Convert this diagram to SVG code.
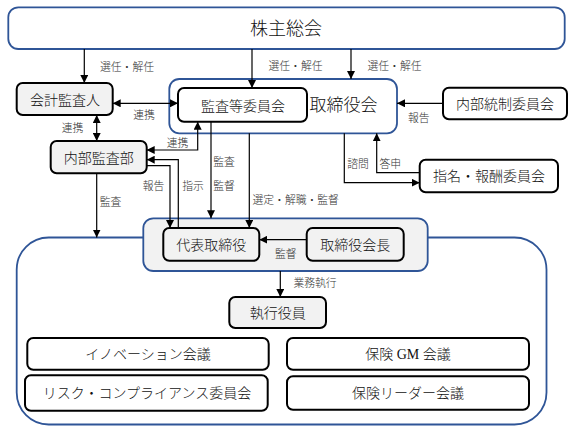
<svg xmlns="http://www.w3.org/2000/svg" width="574" height="432" viewBox="0 0 574 432">
<defs>
<marker id="ah" viewBox="0 0 10 10" refX="10" refY="5" markerWidth="8" markerHeight="8" markerUnits="userSpaceOnUse" orient="auto-start-reverse">
<path d="M0,0 L10,5 L0,10 z" fill="#000"/>
</marker>
<style>
text{font-family:"Liberation Serif","Noto Sans CJK JP",sans-serif;font-weight:300;fill:#111;text-anchor:middle;dominant-baseline:central}
.blue{fill:#fff;stroke:#2F5597;stroke-width:1.8}
.bluegrey{fill:#f2f2f2;stroke:#2F5597;stroke-width:1.8}
.box{fill:#fff;stroke:#000;stroke-width:2}
.gbox{fill:#f2f2f2;stroke:#000;stroke-width:2}
.t18{font-size:18px}
.t17{font-size:17px}
.t14{font-size:14px}
.lbl{font-size:10.8px;fill:#333}
.c{fill:none;stroke:#000;stroke-width:1.2}
.a{marker-end:url(#ah)}
.b{marker-start:url(#ah);marker-end:url(#ah)}
</style>
</defs>

<g id="shareholders">
<rect class="blue" x="8.3" y="7.3" width="556.4" height="41.7" rx="10"/>
<text class="t18" x="286" y="28.5">株主総会</text>
</g>

<g id="big-frame">
<rect class="blue" x="16.7" y="237.5" width="529.8" height="187" rx="32"/>
</g>

<g id="board">
<rect class="blue" x="169.3" y="79" width="227.7" height="54.3" rx="10"/>
<text class="t17" x="343.5" y="105">取締役会</text>
</g>

<g id="audit-committee">
<rect class="box" x="178" y="88" width="129" height="33.7" rx="6"/>
<text class="t14" x="243" y="106">監査等委員会</text>
</g>

<g id="accounting-auditor">
<rect class="gbox" x="16.7" y="83" width="96" height="32" rx="6"/>
<text class="t14" x="65" y="100">会計監査人</text>
</g>

<g id="internal-control">
<rect class="box" x="443" y="87.7" width="124" height="31.6" rx="6"/>
<text class="t14" x="505" y="104.5">内部統制委員会</text>
</g>

<g id="internal-audit">
<rect class="gbox" x="50.7" y="141" width="96" height="32.3" rx="6"/>
<text class="t14" x="98.7" y="158">内部監査部</text>
</g>

<g id="nomination">
<rect class="box" x="419.7" y="159.7" width="138.3" height="32.6" rx="6"/>
<text class="t14" x="489" y="176.5">指名・報酬委員会</text>
</g>

<g id="exec-group">
<rect class="bluegrey" x="143.3" y="218.3" width="284.4" height="52.7" rx="10"/>
</g>

<g id="representative">
<rect class="gbox" x="163.3" y="228" width="96" height="32.7" rx="6"/>
<text class="t14" x="211.3" y="245">代表取締役</text>
</g>

<g id="chairman">
<rect class="gbox" x="306.7" y="228" width="97" height="32.7" rx="6"/>
<text class="t14" x="355.2" y="245">取締役会長</text>
</g>

<g id="executive-officers">
<rect class="gbox" x="229.3" y="297" width="96.7" height="31" rx="6"/>
<text class="t14" x="277.7" y="313">執行役員</text>
</g>

<g id="innovation">
<rect class="box" x="27.3" y="338" width="241.4" height="31.7" rx="6"/>
<text class="t14" x="148" y="354.5">イノベーション会議</text>
</g>

<g id="risk">
<rect class="box" x="25" y="375.3" width="242.7" height="35.4" rx="6"/>
<text class="t14" x="147" y="393.5">リスク・コンプライアンス委員会</text>
</g>

<g id="insurance-gm">
<rect class="box" x="287" y="338" width="242" height="31.7" rx="6"/>
<text class="t14" x="408" y="354.5">保険 GM 会議</text>
</g>

<g id="insurance-leader">
<rect class="box" x="287" y="376.3" width="242" height="33.4" rx="6"/>
<text class="t14" x="408" y="393.5">保険リーダー会議</text>
</g>

<g id="connectors">
<path class="c a" d="M84.3,49 V83"/>
<path class="c a" d="M252,49 V88"/>
<path class="c a" d="M351,49 V79"/>
<path class="c b" d="M112.7,103.3 H178"/>
<path class="c b" d="M96.7,115 V141"/>
<path class="c a" d="M443,103.3 H397"/>
<path class="c b" d="M197.7,121.7 V150 H146.7"/>
<path class="c a" d="M146.7,165.7 H170 V228"/>
<path class="c a" d="M178.3,228 V159.7 H146.7"/>
<path class="c a" d="M96.7,173.3 V237.5"/>
<path class="c a" d="M211,121.7 V218.3"/>
<path class="c a" d="M249.3,133.3 V228"/>
<path class="c a" d="M344.3,133.3 V182.7 H419.7"/>
<path class="c a" d="M419.7,172.7 H376.7 V133.3"/>
<path class="c a" d="M306.7,239.7 H259.3"/>
<path class="c a" d="M280.3,271 V297"/>

<text class="lbl" x="127" y="66.5">選任・解任</text>
<text class="lbl" x="295.5" y="66">選任・解任</text>
<text class="lbl" x="394.5" y="66">選任・解任</text>
<text class="lbl" x="144" y="115">連携</text>
<text class="lbl" x="72.5" y="127.5">連携</text>
<text class="lbl" x="418.7" y="118">報告</text>
<text class="lbl" x="177.5" y="143">連携</text>
<text class="lbl" x="153.5" y="185.7">報告</text>
<text class="lbl" x="193" y="185.7">指示</text>
<text class="lbl" x="110.5" y="202.3">監査</text>
<text class="lbl" x="224" y="162.3">監査</text>
<text class="lbl" x="224" y="185.7">監督</text>
<text class="lbl" x="295.7" y="200">選定・解職・監督</text>
<text class="lbl" x="358" y="164.3">諮問</text>
<text class="lbl" x="390.3" y="164.3">答申</text>
<text class="lbl" x="285.7" y="254">監督</text>
<text class="lbl" x="315" y="283.3">業務執行</text>
</g>
</svg>
